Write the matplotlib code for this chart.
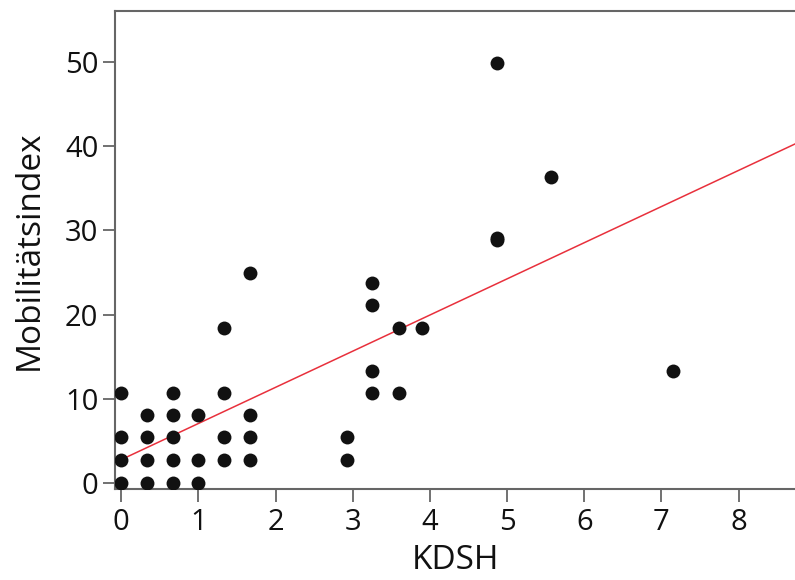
import matplotlib
matplotlib.use("Agg")
import matplotlib.pyplot as plt
import numpy as np

plt.rcParams['font.family'] = ['Open Sans', 'DejaVu Sans']

# KDSH score and mobility index per subject
kdsh = [0, 0, 0, 0,
        0.33, 0.33, 0.33, 0.33,
        0.67, 0.67, 0.67, 0.67, 0.67,
        1, 1, 1,
        1.33, 1.33, 1.33, 1.33,
        1.67, 1.67, 1.67, 1.67,
        2.93, 2.93,
        3.25, 3.25, 3.25, 3.25,
        3.6, 3.6,
        3.9,
        4.87, 4.87, 4.87,
        5.57,
        7.15]
mobil = [0, 2.7, 5.4, 10.7,
         0, 2.7, 5.4, 8.1,
         0, 2.7, 5.4, 8.1, 10.7,
         0, 2.7, 8.1,
         2.7, 5.4, 10.7, 18.4,
         2.7, 5.4, 8.1, 25.0,
         2.7, 5.4,
         10.7, 13.3, 21.1, 23.7,
         10.7, 18.4,
         18.4,
         28.9, 29.1, 49.9,
         36.4,
         13.3]

# regression line
fit_intercept = 2.75
fit_slope = 4.3

xticks = [0, 1, 2, 3, 4, 5, 6, 7, 8]
yticks = [0, 10, 20, 30, 40, 50]

fig = plt.figure(figsize=(7.95, 5.8), dpi=100)
ax = fig.add_axes([0.1447, 0.1575, 0.8553, 0.8235])

xmin, xmax = -0.08, 8.73
ax.scatter(kdsh, mobil, s=100, color='#111111', zorder=3, linewidths=0)
xl = np.array([xmin, xmax])
ax.plot(xl, fit_intercept + fit_slope * xl, color='#e8303c', lw=1.1, zorder=2)

ax.set_xlim(xmin, xmax)
ax.set_ylim(-0.7, 56.1)
ax.set_xticks(xticks)
ax.set_yticks(yticks)

ax.spines['right'].set_visible(False)
for s in ['left', 'top', 'bottom']:
    ax.spines[s].set_color('#666666')
    ax.spines[s].set_linewidth(1.5)

ax.tick_params(axis='both', direction='out', length=9, width=1.3,
               color='#666666', labelsize=21, labelcolor='#111111')
ax.tick_params(axis='y', pad=3)
ax.tick_params(axis='x', pad=5)

ax.set_xlabel('KDSH', fontsize=24, color='#111111', labelpad=5)
ax.set_ylabel('Mobilitätsindex', fontsize=24, color='#111111', labelpad=14)

fig.savefig('out.png', dpi=100)
